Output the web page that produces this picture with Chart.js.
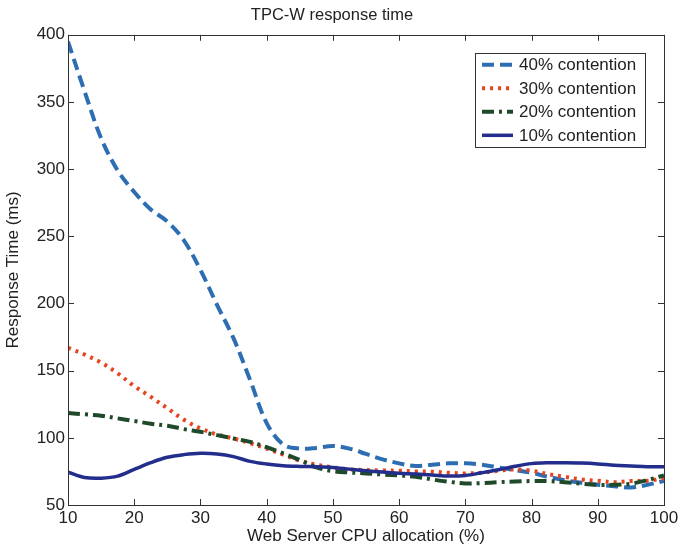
<!DOCTYPE html>
<html><head><meta charset="utf-8">
<script src="https://cdn.jsdelivr.net/npm/chart.js@4"></script>
<style>html,body{margin:0;padding:0;background:#fff}#wrap{width:678px;height:550px}</style>
</head><body><div id="wrap"><canvas id="c" width="678" height="550"></canvas></div>
<script>
const cpuAllocation = [10,12.5,15,17.5,20,22.5,25,27.5,30,32.5,35,37.5,40,42.5,45,47.5,50,52.5,55,57.5,60,62.5,65,67.5,70,72.5,75,77.5,80,82.5,85,87.5,90,92.5,95,97.5,100];
const contention40 = [395,358,323,299,283,270,261,247,225,199,174,143,111,95,92,92.5,94,92,88,84,81,79,80,81,81,80,78,76,74,71,68.5,66.5,65,64,63,65,68];
const contention30 = [167,162,156,148,138.5,130.5,122,113.5,107,102.5,99.5,96,92,87.5,83,80,78,76.5,76,75.7,75.5,75,74.8,74,73.5,74,75.5,76.5,75.5,73,71,69,68,67,67.8,68,70];
const contention20 = [118.5,117.5,116.5,114.5,112.5,110.5,109,106.5,104.5,102,99.5,97,93,88.5,83.5,78,75.2,74.2,73.5,72.7,72,71,69,67.3,66,66.3,67,67.5,67.8,67.8,67,65.8,65,65,65.8,68.5,72];
const contention10 = [74.5,70.5,70,71.5,76.5,81.5,85.5,87.5,88.5,88,86,82.5,80.5,79.2,78.7,78.5,78,76.7,75.5,74.5,73.7,73,72.3,71.6,72,74,76.2,78.8,80.8,81.4,81.4,81.2,80.6,79.5,79,78.5,78.5];
const seriesLabels = ['40% contention','30% contention','20% contention','10% contention'];
const xTicks = [10,20,30,40,50,60,70,80,90,100];
const yTicks = [50,100,150,200,250,300,350,400];

const FONT = '"Liberation Sans", Arial, Helvetica, sans-serif';
const TXT = '#222';
const toPts = ys => cpuAllocation.map((x,i)=>({x:x,y:ys[i]}));

const styles = [
  {color:'#2d6db2', dash:[12,6], width:4, order:4},
  {color:'#e8431d', dash:[3,5], width:4, order:3},
  {color:'#1f4a2a', dash:[12,5,3,5], width:4, order:2},
  {color:'#232d8c', dash:[], width:3.5, order:1}
];
const values = [contention40, contention30, contention20, contention10];

const datasets = values.map((v,i)=>({
  label: seriesLabels[i],
  data: toPts(v),
  borderColor: styles[i].color,
  borderDash: styles[i].dash,
  borderWidth: styles[i].width,
  order: styles[i].order,
  pointRadius: 0,
  fill: false,
  tension: 0.35,
  borderCapStyle: 'butt'
}));

const framePlugin = {
  id: 'frame',
  afterDatasetsDraw(chart){
    const {ctx, chartArea:a, scales:{x, y}} = chart;
    ctx.save();
    ctx.strokeStyle = '#333';
    ctx.lineWidth = 1;
    ctx.strokeRect(Math.round(a.left)+0.5, Math.round(a.top)+0.5, Math.round(a.right-a.left), Math.round(a.bottom-a.top));
    const t = 6;
    ctx.beginPath();
    xTicks.forEach(v=>{
      const px = Math.round(x.getPixelForValue(v))+0.5;
      ctx.moveTo(px, a.bottom); ctx.lineTo(px, a.bottom - t);
      ctx.moveTo(px, a.top); ctx.lineTo(px, a.top + t);
    });
    yTicks.forEach(v=>{
      const py = Math.round(y.getPixelForValue(v))+0.5;
      ctx.moveTo(a.left, py); ctx.lineTo(a.left + t, py);
      ctx.moveTo(a.right, py); ctx.lineTo(a.right - t, py);
    });
    ctx.stroke();
    ctx.restore();
  }
};

const legendPlugin = {
  id: 'boxLegend',
  afterDraw(chart){
    const {ctx, chartArea:a} = chart;
    const left = a.right - 189, top = a.top + 18, w = 170, h = 94;
    ctx.save();
    ctx.fillStyle = '#fff';
    ctx.fillRect(left, top, w, h);
    ctx.strokeStyle = '#333';
    ctx.lineWidth = 1;
    ctx.setLineDash([]);
    ctx.strokeRect(Math.round(left)+0.5, Math.round(top)+0.5, w, h);
    chart.data.datasets.forEach((ds,i)=>{
      const yy = top + 12 + i*23.5;
      ctx.beginPath();
      ctx.strokeStyle = ds.borderColor;
      ctx.lineWidth = ds.borderWidth;
      ctx.setLineDash(ds.borderDash);
      ctx.moveTo(left+7, yy); ctx.lineTo(left+38, yy);
      ctx.stroke();
      ctx.setLineDash([]);
      ctx.fillStyle = TXT;
      ctx.font = '17px ' + FONT;
      ctx.textBaseline = 'middle';
      ctx.textAlign = 'left';
      ctx.fillText(ds.label, left+44, yy+1);
    });
    ctx.restore();
  }
};

new Chart(document.getElementById('c'), {
  type: 'line',
  data: { datasets },
  options: {
    responsive: false,
    devicePixelRatio: 1,
    animation: false,
    layout: { padding: { top: 0, right: 14, bottom: 0, left: 0 } },
    plugins: {
      legend: { display: false },
      tooltip: { enabled: false },
      title: {
        display: true,
        text: 'TPC-W response time',
        color: TXT,
        font: { family: FONT, size: 16.5, weight: 'normal' },
        padding: { top: 6, bottom: 9 }
      }
    },
    scales: {
      x: {
        type: 'linear', min: 10, max: 100,
        afterBuildTicks: s => { s.ticks = xTicks.map(v=>({value:v})); },
        afterFit: s => { s.height = 45; s.paddingRight = 0; s.paddingLeft = 0; },
        grid: { display: false, drawTicks: false },
        border: { display: false },
        ticks: { color: TXT, font: { family: FONT, size: 17 }, padding: 3, maxRotation: 0, autoSkip: false },
        title: { display: true, text: 'Web Server CPU allocation (%)', color: TXT, font: { family: FONT, size: 17 }, padding: { top: 0, bottom: 3 } }
      },
      y: {
        type: 'linear', min: 50, max: 400,
        afterBuildTicks: s => { s.ticks = yTicks.map(v=>({value:v})); },
        afterFit: s => { s.width = 68; },
        grid: { display: false, drawTicks: false },
        border: { display: false },
        ticks: { color: TXT, font: { family: FONT, size: 17 }, padding: 3, autoSkip: false },
        title: { display: true, text: 'Response Time (ms)', color: TXT, font: { family: FONT, size: 17 }, padding: { top: 3, bottom: 0 } }
      }
    }
  },
  plugins: [framePlugin, legendPlugin]
});
</script>
</body></html>
